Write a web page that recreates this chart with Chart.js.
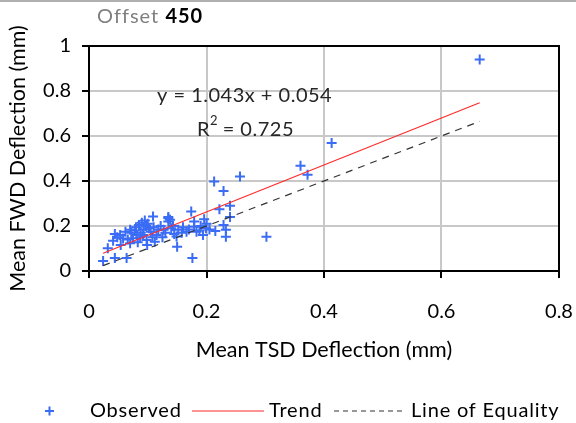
<!DOCTYPE html>
<html>
<head>
<meta charset="utf-8">
<script src="https://cdn.jsdelivr.net/npm/chart.js@4.4.1/dist/chart.umd.min.js"></script>
<style>
  html, body { margin: 0; padding: 0; background: #fff; }
  #wrap { width: 576px; height: 423px; position: relative; }
</style>
</head>
<body>
<div id="wrap"><canvas id="chart" width="576" height="423"></canvas></div>
<script>
// Mean deflections at offset 450 (mm)
const tsdValues = [
  0.024, 0.032, 0.044, 0.064, 0.176, 0.302, 0.257, 0.213, 0.229, 0.222,
  0.240, 0.240, 0.233, 0.233, 0.229, 0.174, 0.196, 0.199, 0.194, 0.179,
  0.179, 0.150, 0.135, 0.135, 0.109, 0.152, 0.166, 0.183, 0.149, 0.127,
  0.115, 0.098, 0.099, 0.070, 0.054, 0.041, 0.053, 0.044, 0.070, 0.075,
  0.665, 0.413, 0.360, 0.372, 0.080, 0.085, 0.090, 0.093, 0.097, 0.088,
  0.082, 0.100, 0.102, 0.095, 0.078, 0.092, 0.105, 0.110, 0.118, 0.122,
  0.062, 0.058, 0.066, 0.072, 0.087, 0.130, 0.140, 0.143, 0.160, 0.170,
  0.188, 0.200, 0.135, 0.138, 0.215, 0.158, 0.125, 0.108, 0.190, 0.205,
  0.112, 0.083, 0.145, 0.048
];
const fwdValues = [
  0.045, 0.101, 0.058, 0.058, 0.058, 0.152, 0.420, 0.398, 0.356, 0.275,
  0.290, 0.240, 0.183, 0.152, 0.205, 0.264, 0.230, 0.190, 0.160, 0.220,
  0.197, 0.108, 0.235, 0.220, 0.242, 0.183, 0.175, 0.175, 0.153, 0.183,
  0.160, 0.138, 0.116, 0.123, 0.116, 0.135, 0.160, 0.165, 0.183, 0.146,
  0.940, 0.569, 0.468, 0.428, 0.195, 0.205, 0.215, 0.185, 0.200, 0.170,
  0.160, 0.210, 0.190, 0.225, 0.180, 0.160, 0.175, 0.195, 0.185, 0.200,
  0.175, 0.145, 0.140, 0.170, 0.150, 0.170, 0.190, 0.200, 0.195, 0.185,
  0.180, 0.210, 0.240, 0.228, 0.178, 0.170, 0.150, 0.150, 0.200, 0.185,
  0.130, 0.128, 0.165, 0.150
];

// linear fit reported on the chart, and the x span it covers
const trendSlope = 1.043;
const trendIntercept = 0.054;
const trendR2 = 0.725;
const lineSpan = [0.024, 0.665];

const xTicks = [0, 0.2, 0.4, 0.6, 0.8];
const yTicks = [0, 0.2, 0.4, 0.6, 0.8, 1];

const FONT = 'Lato, "Open Sans", sans-serif';
const BLUE = '#3a6cf6';
const RED = '#ff2a2a';

const observed = tsdValues.map((x, i) => ({ x: x, y: fwdValues[i] }));
const trend = lineSpan.map(x => ({ x: x, y: trendSlope * x + trendIntercept }));
const equality = lineSpan.map(x => ({ x: x, y: x }));

// frame round the plot, title, fit label and legend
const decorations = {
  id: 'decorations',
  afterDraw(chart) {
    const ctx = chart.ctx;
    const a = chart.chartArea;
    ctx.save();

    ctx.strokeStyle = '#000';
    ctx.lineWidth = 2;
    ctx.strokeRect(a.left, a.top, a.right - a.left, a.bottom - a.top);

    ctx.strokeStyle = '#b0b0b0';
    ctx.lineWidth = 2;
    ctx.beginPath(); ctx.moveTo(0, 1); ctx.lineTo(576, 1); ctx.stroke();

    ctx.textBaseline = 'middle';
    ctx.textAlign = 'left';

    // title
    ctx.letterSpacing = '1px';
    ctx.font = '20px ' + FONT;
    ctx.fillStyle = '#7f7f7f';
    ctx.fillText('Offset', 97, 17);
    const w = ctx.measureText('Offset ').width;
    ctx.font = 'bold 20px ' + FONT;
    ctx.fillStyle = '#000';
    ctx.fillText('450', 97 + w, 17);

    // fit label
    ctx.letterSpacing = '0.5px';
    ctx.font = '20px ' + FONT;
    ctx.fillStyle = '#262626';
    ctx.fillText('y = ' + trendSlope.toFixed(3) + 'x + ' + trendIntercept.toFixed(3), 157, 96);
    ctx.fillText('R', 197, 130);
    const rw = ctx.measureText('R').width;
    ctx.font = '13px ' + FONT;
    ctx.fillText('2', 197 + rw, 121);
    ctx.font = '20px ' + FONT;
    ctx.fillText(' = ' + trendR2.toFixed(3), 197 + rw + 7, 130);

    // legend
    const ly = 411;
    ctx.letterSpacing = '0.8px';
    ctx.font = '20px ' + FONT;
    ctx.fillStyle = '#000';
    ctx.strokeStyle = BLUE;
    ctx.lineWidth = 2;
    ctx.beginPath();
    ctx.moveTo(45, ly); ctx.lineTo(54, ly);
    ctx.moveTo(49.5, ly - 4.5); ctx.lineTo(49.5, ly + 4.5);
    ctx.stroke();
    ctx.fillText('Observed', 90, ly);

    ctx.strokeStyle = RED;
    ctx.lineWidth = 1.2;
    ctx.beginPath(); ctx.moveTo(192, ly); ctx.lineTo(264, ly); ctx.stroke();
    ctx.fillText('Trend', 269, ly);

    ctx.strokeStyle = '#333';
    ctx.setLineDash([5, 4]);
    ctx.beginPath(); ctx.moveTo(334, ly); ctx.lineTo(404, ly); ctx.stroke();
    ctx.setLineDash([]);
    ctx.fillText('Line of Equality', 411, ly);

    ctx.restore();
  }
};

const tickLabel = v => String(Math.round(v * 10) / 10);

new Chart(document.getElementById('chart'), {
  type: 'scatter',
  data: {
    datasets: [
      {
        label: 'Observed',
        data: observed,
        pointStyle: 'cross',
        pointRadius: 5,
        pointBorderWidth: 2,
        borderColor: BLUE,
        backgroundColor: BLUE,
        order: 3
      },
      {
        label: 'Trend',
        type: 'line',
        data: trend,
        borderColor: RED,
        borderWidth: 1.2,
        pointRadius: 0,
        fill: false,
        order: 1
      },
      {
        label: 'Line of Equality',
        type: 'line',
        data: equality,
        borderColor: '#333333',
        borderWidth: 1.2,
        borderDash: [7, 6],
        pointRadius: 0,
        fill: false,
        order: 2
      }
    ]
  },
  options: {
    responsive: false,
    animation: false,
    layout: { padding: { left: 0, top: 46, right: 17, bottom: 60 } },
    plugins: {
      legend: { display: false },
      tooltip: { enabled: false }
    },
    scales: {
      x: {
        type: 'linear',
        min: xTicks[0],
        max: xTicks[xTicks.length - 1],
        afterBuildTicks(s) { s.ticks = xTicks.map(v => ({ value: v })); },
        afterFit(s) { s.height = 92; s.paddingLeft = 0; s.paddingRight = 0; },
        ticks: { color: '#000', font: { family: FONT, size: 20 }, padding: 22, callback: tickLabel },
        grid: { color: '#c8c8c8', lineWidth: 2, tickColor: '#000', tickLength: 7, tickWidth: 2 },
        border: { color: '#000', width: 2 },
        title: {
          display: true,
          text: 'Mean TSD Deflection (mm)',
          color: '#000',
          font: { family: FONT, size: 21.5 },
          padding: { top: 0, bottom: 0 }
        }
      },
      y: {
        type: 'linear',
        min: yTicks[0],
        max: yTicks[yTicks.length - 1],
        afterBuildTicks(s) { s.ticks = yTicks.map(v => ({ value: v })); },
        afterFit(s) { s.width = 89; s.paddingTop = 0; s.paddingBottom = 0; },
        ticks: { color: '#000', font: { family: FONT, size: 20 }, padding: 11, callback: tickLabel },
        grid: { color: '#c8c8c8', lineWidth: 2, tickColor: '#000', tickLength: 7, tickWidth: 2 },
        border: { color: '#000', width: 2 },
        title: {
          display: true,
          text: 'Mean FWD Deflection (mm)',
          color: '#000',
          font: { family: FONT, size: 21.5 },
          padding: { top: 5, bottom: 0 }
        }
      }
    }
  },
  plugins: [decorations]
});
</script>
</body>
</html>
